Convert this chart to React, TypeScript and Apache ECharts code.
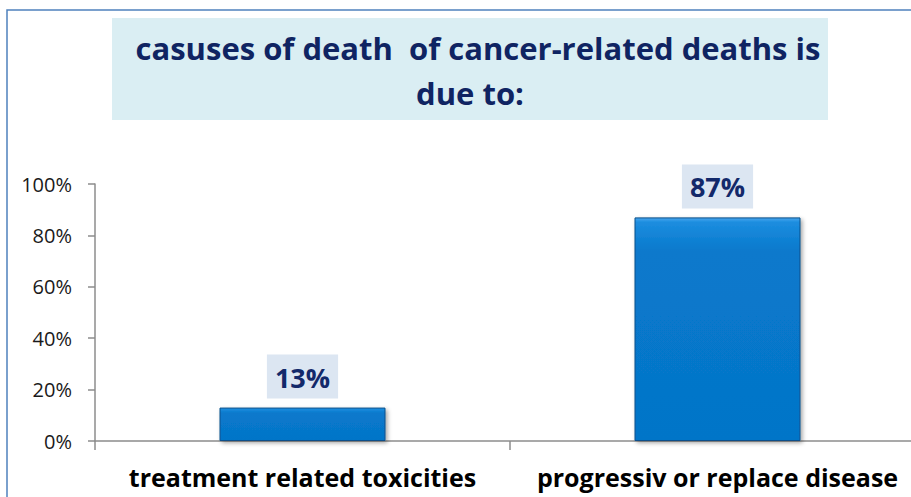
import React, { useEffect, useRef } from "react";
import * as echarts from "echarts";

const categories = ["treatment related toxicities", "progressiv or replace disease"];
const values = [13, 87];
const yTicks = [0, 20, 40, 60, 80, 100];
const titleLines = ["casuses of death  of cancer-related deaths is", "due to:"];

export default function App() {
  const ref = useRef<HTMLDivElement>(null);
  useEffect(() => {
    document.body.style.margin = "0";
    document.documentElement.style.overflow = "hidden";
    document.body.style.overflow = "hidden";
    const chart = echarts.init(ref.current!, null, { renderer: "svg" });
    chart.setOption({
      animation: false,
      backgroundColor: "#ffffff",
      grid: { left: 95, right: 0, top: 184, bottom: 56 },
      graphic: [
        {
          type: "rect",
          shape: { x: 7, y: 10, width: 1000, height: 600 },
          style: { fill: "none", stroke: "#4f81bd", lineWidth: 1.5 },
          silent: true,
        },
        {
          type: "rect",
          shape: { x: 112, y: 18, width: 716, height: 102 },
          style: { fill: "#daeef3" },
          silent: true,
        },
        {
          type: "text",
          x: 478,
          y: 48,
          style: {
            text: titleLines[0],
            fill: "#0f2462",
            font: "bold 31px 'Open Sans'",
            align: "center",
            verticalAlign: "middle",
          },
        },
        {
          type: "text",
          x: 470,
          y: 93,
          style: {
            text: titleLines[1],
            fill: "#0f2462",
            font: "bold 31px 'Open Sans'",
            align: "center",
            verticalAlign: "middle",
          },
        },
      ],
      xAxis: {
        type: "category",
        data: categories,
        axisLine: { lineStyle: { color: "#8c8c8c", width: 1.5 } },
        axisTick: { show: true, length: 9, alignWithLabel: false, lineStyle: { color: "#8c8c8c", width: 1.5 } },
        axisLabel: {
          color: "#000",
          fontFamily: "Open Sans",
          fontWeight: "bold",
          fontSize: 25,
          margin: 23,
          interval: 0,
        },
      },
      yAxis: {
        type: "value",
        min: 0,
        max: 100,
        interval: 20,
        axisLine: { show: true, lineStyle: { color: "#8c8c8c", width: 1.5 } },
        axisTick: { show: true, length: 7, lineStyle: { color: "#8c8c8c", width: 1.5 } },
        splitLine: { show: false },
        axisLabel: {
          color: "#1a1a1a",
          fontFamily: "Open Sans",
          fontSize: 20,
          margin: 23,
          formatter: (v: number) => (yTicks.includes(v) ? v + "%" : ""),
        },
      },
      series: [
        {
          type: "bar",
          data: values,
          barWidth: "40%",
          itemStyle: {
            color: {
              type: "linear",
              x: 0,
              y: 0,
              x2: 0,
              y2: 1,
              colorStops: [
                { offset: 0, color: "#46a6ee" },
                { offset: 0.02, color: "#1c8ddf" },
                { offset: 0.15, color: "#0879cc" },
                { offset: 1, color: "#0575c8" },
              ],
            },
            borderColor: "#0a4f8a",
            borderWidth: 1,
            shadowColor: "rgba(0,0,0,0.35)",
            shadowBlur: 4,
            shadowOffsetX: 2,
            shadowOffsetY: 2,
          },
          label: {
            show: true,
            position: "top",
            distance: 9,
            formatter: (p: any) => p.value + "%",
            color: "#13296a",
            fontFamily: "Open Sans",
            fontWeight: "bold",
            fontSize: 27,
            backgroundColor: "#dce6f2",
            padding: [9, 8, 8, 8],
          },
        },
      ],
    });
    return () => chart.dispose();
  }, []);
  return <div ref={ref} style={{ width: 925, height: 497 }} />;
}
